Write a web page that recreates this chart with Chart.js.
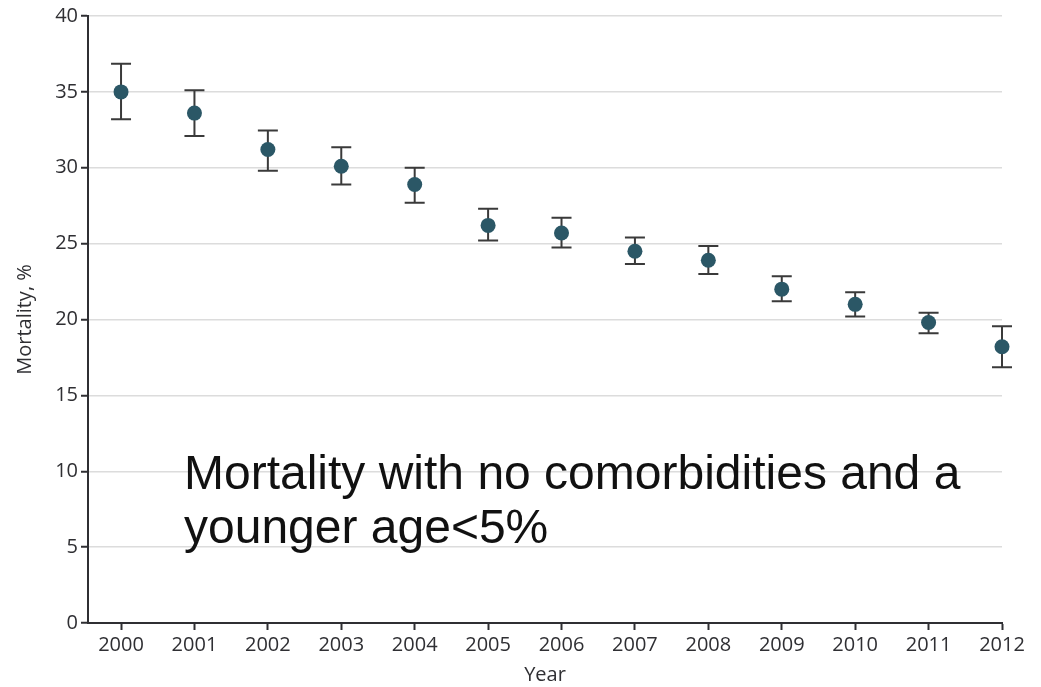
<!DOCTYPE html>
<html>
<head>
<meta charset="utf-8">
<script src="https://cdn.jsdelivr.net/npm/chart.js@4/dist/chart.umd.min.js"></script>
<style>
  html, body { margin: 0; padding: 0; background: #ffffff; }
  #wrap { width: 1041px; height: 687px; position: relative; }
</style>
</head>
<body>
<div id="wrap"><canvas id="chart" width="1041" height="687"></canvas></div>
<script>
// Annual mortality with 95% confidence bounds
const years = [2000, 2001, 2002, 2003, 2004, 2005, 2006, 2007, 2008, 2009, 2010, 2011, 2012];
const mortality = [35.0, 33.6, 31.2, 30.1, 28.9, 26.2, 25.7, 24.5, 23.9, 22.0, 21.0, 19.8, 18.2];
const lowerBound = [33.2, 32.1, 29.8, 28.9, 27.7, 25.2, 24.75, 23.65, 23.0, 21.2, 20.2, 19.1, 16.85];
const upperBound = [36.85, 35.1, 32.45, 31.35, 30.0, 27.3, 26.7, 25.4, 24.85, 22.85, 21.8, 20.45, 19.55];
const yTicks = [0, 5, 10, 15, 20, 25, 30, 35, 40];
const noteLines = ['Mortality with no comorbidities and a', 'younger age<5%'];

const axisFont = { family: "'Open Sans', 'DejaVu Sans', sans-serif", size: 20 };
const inkColor = '#2f2f33';

// Whisker bars with end caps, drawn beneath the points
const errorBars = {
  id: 'errorBars',
  beforeDatasetsDraw(chart) {
    const { ctx, scales: { x, y } } = chart;
    ctx.save();
    ctx.strokeStyle = '#3a3a3a';
    ctx.lineWidth = 2;
    years.forEach((yr, i) => {
      const px = x.getPixelForValue(yr);
      const top = y.getPixelForValue(upperBound[i]);
      const bot = y.getPixelForValue(lowerBound[i]);
      const half = 10;
      ctx.beginPath();
      ctx.moveTo(px, top); ctx.lineTo(px, bot);
      ctx.moveTo(px - half, top); ctx.lineTo(px + half, top);
      ctx.moveTo(px - half, bot); ctx.lineTo(px + half, bot);
      ctx.stroke();
    });
    ctx.restore();
  }
};

// Large note written over the lower part of the plot
const noteText = {
  id: 'noteText',
  afterDraw(chart) {
    const { ctx } = chart;
    ctx.save();
    ctx.fillStyle = '#111111';
    ctx.font = "48px 'Liberation Sans', Arial, sans-serif";
    ctx.textBaseline = 'alphabetic';
    ctx.textAlign = 'left';
    ctx.fillText(noteLines[0], 184, 489);
    ctx.fillText(noteLines[1], 184, 543);
    ctx.restore();
  }
};

new Chart(document.getElementById('chart'), {
  type: 'scatter',
  data: {
    datasets: [{
      data: years.map((yr, i) => ({ x: yr, y: mortality[i] })),
      backgroundColor: '#2b5766',
      borderColor: '#2b5766',
      pointRadius: 7.5,
      pointHoverRadius: 7.5,
      borderWidth: 0,
      clip: false
    }]
  },
  options: {
    responsive: false,
    animation: false,
    devicePixelRatio: 1,
    layout: { padding: { top: 16, right: 39, left: 0, bottom: 0 } },
    plugins: { legend: { display: false }, tooltip: { enabled: false } },
    scales: {
      x: {
        type: 'linear',
        min: 1999.55,
        max: 2012,
        afterBuildTicks(scale) { scale.ticks = years.map(v => ({ value: v })); },
        afterFit(scale) { scale.height = 64; },
        ticks: {
          font: axisFont,
          color: inkColor,
          padding: 3,
          maxRotation: 0,
          autoSkip: false,
          callback: v => String(v)
        },
        grid: {
          drawOnChartArea: false,
          drawTicks: true,
          tickLength: 7,
          tickColor: inkColor,
          tickWidth: 2
        },
        border: { display: true, color: inkColor, width: 2 },
        title: {
          display: true,
          text: 'Year',
          font: axisFont,
          color: inkColor,
          padding: { top: 0, bottom: 0 }
        }
      },
      y: {
        min: 0,
        max: 40,
        afterBuildTicks(scale) { scale.ticks = yTicks.map(v => ({ value: v })); },
        afterFit(scale) { scale.width = 88; },
        ticks: {
          font: axisFont,
          color: inkColor,
          padding: 3
        },
        grid: {
          color: '#dcdcdc',
          lineWidth: 1.5,
          drawTicks: true,
          tickLength: 7,
          tickColor: inkColor,
          tickWidth: 2
        },
        border: { display: true, color: inkColor, width: 2 },
        title: {
          display: true,
          text: 'Mortality, %',
          font: axisFont,
          color: inkColor,
          padding: { top: 13, bottom: 6 }
        }
      }
    }
  },
  plugins: [errorBars, noteText]
});
</script>
</body>
</html>
